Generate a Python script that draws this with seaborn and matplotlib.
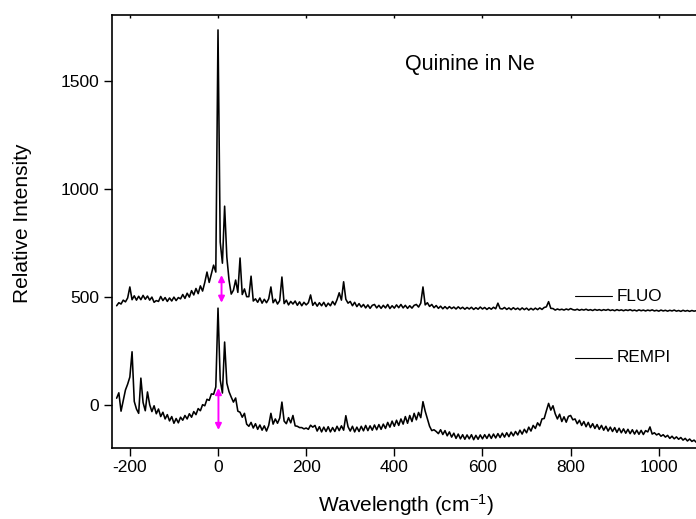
import numpy as np
import pandas as pd
import matplotlib
matplotlib.use("Agg")
import matplotlib.pyplot as plt
import seaborn as sns

wave_start = -230
wave_step = 5

# FLUO spectrum, one row = 50 cm-1
fluo = [
    458, 472, 466, 484, 476, 494, 545, 486, 504, 484,   # -230
    502, 486, 506, 488, 503, 484, 498, 474, 482, 478,   # -180
    501, 482, 496, 478, 494, 480, 498, 482, 496, 490,   # -130
    510, 492, 516, 498, 528, 508, 538, 514, 550, 526,   # -80
    566, 614, 566, 606, 646, 614, 1735, 753, 655, 919,  # -30
    684, 577, 512, 530, 577, 520, 679, 510, 536, 500,   # 20
    500, 595, 480, 490, 474, 494, 470, 488, 472, 490,   # 70
    545, 472, 488, 466, 482, 591, 468, 484, 462, 478,   # 120
    466, 480, 460, 476, 458, 474, 462, 472, 508, 460,   # 170
    474, 456, 472, 458, 474, 454, 470, 458, 478, 462,   # 220
    486, 518, 484, 569, 488, 470, 478, 458, 474, 454,   # 270
    468, 452, 464, 448, 462, 446, 460, 464, 448, 460,   # 320
    446, 460, 448, 464, 445, 458, 447, 462, 449, 464,   # 370
    448, 460, 446, 458, 447, 460, 464, 452, 470, 545,   # 420
    462, 472, 455, 464, 449, 459, 446, 456, 444, 454,   # 470
    444, 454, 445, 452, 443, 453, 444, 451, 442, 450,   # 520
    443, 451, 441, 449, 442, 452, 443, 450, 441, 449,   # 570
    442, 451, 444, 470, 445, 443, 450, 441, 448, 440,   # 620
    449, 441, 447, 439, 448, 440, 447, 438, 446, 439,   # 670
    447, 440, 448, 441, 450, 453, 477, 446, 445, 438,   # 720
    443, 439, 442, 438, 443, 439, 445, 440, 438, 442,   # 770
    437, 441, 438, 442, 437, 440, 436, 441, 437, 440,   # 820
    436, 440, 437, 441, 436, 439, 435, 440, 436, 439,   # 870
    435, 439, 436, 440, 435, 438, 434, 439, 435, 438,   # 920
    434, 438, 435, 439, 434, 437, 433, 438, 434, 437,   # 970
    433, 437, 434, 438, 433, 436, 432, 437, 433, 436,   # 1020
    432, 436, 433, 435,                                 # 1070
]

# REMPI spectrum
rempi = [
    30, 55, -30, 18, 68, 95, 128, 245, 15, -20,                      # -230
    -40, 123, 10, -28, 59, 0, -32, -5, -42, -20,                     # -180
    -55, -35, -66, -46, -75, -55, -86, -64, -84, -58,                # -130
    -72, -50, -66, -42, -58, -32, -46, -18, -28, 0,                  # -80
    -5, 25, 20, 50, 48, 82, 447, 114, 54, 290,                       # -30
    100, 60, 35, 12, 31, -30, -35, -58, -40, -90,                    # 20
    -100, -82, -108, -88, -114, -94, -118, -98, -122, -96,           # 70
    -40, -90, -66, -86, -62, 12, -76, -88, -60, -84,                 # 120
    -50, -98, -100, -106, -106, -112, -108, -114, -95, -104,         # 170
    -96, -122, -102, -126, -104, -124, -102, -126, -106, -124,       # 220
    -100, -120, -98, -118, -51, -102, -122, -100, -126, -104,        # 270
    -124, -100, -121, -96, -120, -98, -118, -94, -116, -92,          # 320
    -114, -90, -110, -82, -104, -76, -100, -72, -96, -66,            # 370
    -90, -55, -86, -50, -78, -40, -70, -36, -60, 14,                 # 420
    -30, -65, -100, -120, -116, -124, -134, -116, -138, -120,        # 470
    -144, -126, -150, -132, -156, -136, -158, -139, -160, -140,      # 520
    -158, -139, -162, -142, -160, -140, -158, -139, -156, -137,      # 570
    -156, -136, -154, -134, -152, -132, -150, -130, -148, -127,      # 620
    -144, -124, -140, -118, -136, -114, -130, -104, -122, -96,       # 670
    -110, -84, -98, -66, -64, -28, 6, -25, -5, -42,                  # 720
    -66, -44, -78, -56, -81, -54, -50, -70, -66, -88,                # 770
    -72, -96, -78, -102, -82, -106, -88, -110, -92, -114,            # 820
    -96, -118, -100, -122, -104, -124, -106, -128, -109, -130,       # 870
    -112, -132, -114, -134, -116, -136, -118, -137, -119, -138,      # 920
    -120, -126, -103, -136, -130, -140, -134, -146, -139, -150,      # 970
    -142, -156, -146, -158, -149, -160, -152, -164, -156, -168,      # 1020
    -159, -170, -164, -174,                                          # 1070
]

series_names = ["FLUO", "REMPI"]
x_ticks = [-200, 0, 200, 400, 600, 800, 1000]
y_ticks = [0, 500, 1000, 1500]

# double arrows (x, y_low, y_high)
arrow_fluo = (8, 472, 600)
arrow_rempi = (1, -117, 77)

wavenumber = wave_start + wave_step * np.arange(len(fluo))
df = pd.DataFrame({
    "wavenumber": np.concatenate([wavenumber, wavenumber]),
    "intensity": np.concatenate([fluo, rempi]),
    "series": ["FLUO"] * len(fluo) + ["REMPI"] * len(rempi),
})

sns.set_theme(style="ticks")
plt.rcParams["font.family"] = ["Liberation Sans", "DejaVu Sans"]
plt.rcParams["mathtext.fontset"] = "custom"
plt.rcParams["mathtext.rm"] = "Liberation Sans"
plt.rcParams["mathtext.it"] = "Liberation Sans:italic"
plt.rcParams["axes.unicode_minus"] = False
plt.rcParams["text.color"] = "black"
plt.rcParams["axes.labelcolor"] = "black"

fig = plt.figure(figsize=(6.96, 5.19), dpi=100)
ax = fig.add_axes([112 / 696, 71 / 519, 588 / 696, 433 / 519])

sns.lineplot(data=df, x="wavenumber", y="intensity", hue="series",
             palette={"FLUO": "black", "REMPI": "black"},
             estimator=None, sort=False, linewidth=1.15, legend=False, ax=ax)

for x, lo, hi in [arrow_fluo, arrow_rempi]:
    ax.annotate("", xy=(x, lo), xytext=(x, hi),
                arrowprops=dict(arrowstyle="<|-|>", color="#ff00ff", lw=1.4,
                                mutation_scale=9, shrinkA=0, shrinkB=0),
                zorder=5)

ax.set_xlim(-240.5, 1093.5)
ax.set_ylim(-200.5, 1804)
ax.set_xticks(x_ticks)
ax.set_yticks(y_ticks)
ax.tick_params(axis="both", direction="out", length=5.5, width=1.0,
               labelsize=12.5, color="black", labelcolor="black")
ax.tick_params(axis="x", top=True, labeltop=False)
for t in ax.xaxis.get_major_ticks():
    t.tick2line.set_markersize(2)
    t.tick2line.set_marker(3)

for side in ["left", "bottom", "top"]:
    ax.spines[side].set_linewidth(1.2)
    ax.spines[side].set_color("black")
ax.spines["right"].set_visible(False)

ax.set_xlabel("Wavelength (cm$^{-1}$)", fontsize=15, labelpad=12, color="black")
ax.set_ylabel("Relative Intensity", fontsize=15, color="black")
ax.yaxis.set_label_coords(-0.136, 0.52)

ax.text(0.498, 0.885, "Quinine in Ne", transform=ax.transAxes,
        fontsize=15.5, ha="left", va="center", color="black")

# hand-made legend: short line sample + label per series
legend_y = {"FLUO": 0.351, "REMPI": 0.208}
for name in series_names:
    y = legend_y[name]
    ax.plot([0.787, 0.850], [y, y], color="black", lw=0.8,
            transform=ax.transAxes)
    ax.text(0.859, y, name, transform=ax.transAxes, fontsize=12.3,
            ha="left", va="center", color="black")

fig.savefig("out.png", dpi=100)
